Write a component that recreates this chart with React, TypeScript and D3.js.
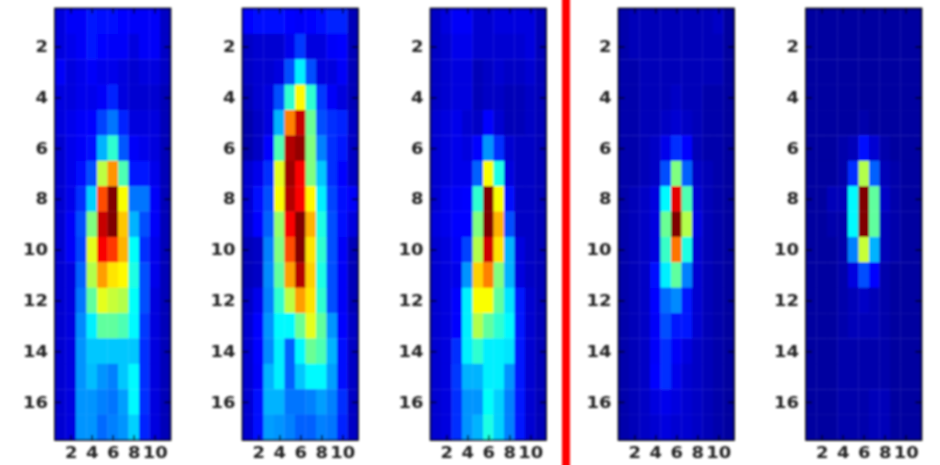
import React, { useEffect, useRef } from 'react';
import * as d3 from 'd3';

// rows top to bottom (1..17), columns left to right (1..11), jet scale 0..1
const panelA = [
  [.10,.12,.12,.15,.14,.14,.13,.12,.12,.12,.08],
  [.10,.11,.12,.15,.13,.12,.12,.10,.12,.12,.08],
  [.12,.10,.11,.12,.11,.11,.10,.09,.10,.10,.08],
  [.10,.10,.11,.11,.12,.16,.10,.09,.09,.09,.07],
  [.10,.11,.12,.13,.19,.24,.16,.10,.10,.10,.07],
  [.09,.11,.12,.14,.30,.42,.21,.12,.11,.10,.07],
  [.09,.11,.14,.20,.56,.73,.45,.15,.15,.11,.07],
  [.09,.11,.17,.33,.80,1.0,.62,.24,.24,.12,.07],
  [.09,.12,.20,.50,.93,1.0,.68,.30,.20,.12,.07],
  [.09,.12,.19,.60,.88,.82,.70,.38,.17,.11,.07],
  [.09,.10,.22,.55,.72,.65,.63,.40,.20,.11,.07],
  [.09,.10,.24,.47,.60,.57,.55,.38,.20,.10,.07],
  [.09,.10,.26,.36,.47,.47,.45,.37,.18,.10,.07],
  [.09,.10,.27,.32,.32,.32,.32,.32,.17,.10,.07],
  [.09,.10,.27,.31,.27,.25,.32,.37,.17,.10,.07],
  [.09,.10,.27,.27,.25,.24,.28,.37,.17,.10,.07],
  [.09,.10,.27,.27,.23,.25,.27,.33,.16,.10,.07],
];
const panelB = [
  [.13,.14,.14,.14,.13,.12,.13,.14,.16,.16,.07],
  [.08,.09,.09,.09,.11,.18,.10,.10,.12,.13,.07],
  [.08,.09,.09,.10,.20,.36,.20,.10,.10,.12,.07],
  [.07,.09,.10,.20,.42,.63,.42,.18,.12,.10,.07],
  [.06,.08,.10,.30,.75,.93,.48,.20,.17,.16,.08],
  [.06,.08,.13,.45,.95,.98,.50,.25,.17,.15,.08],
  [.09,.11,.17,.60,.97,.88,.50,.32,.17,.13,.08],
  [.09,.14,.20,.62,.95,.88,.63,.36,.19,.14,.12],
  [.09,.13,.22,.52,.88,1.0,.70,.40,.20,.14,.10],
  [.07,.08,.25,.50,.80,1.0,.65,.42,.20,.12,.07],
  [.07,.08,.26,.47,.72,.95,.67,.40,.20,.12,.07],
  [.08,.11,.25,.42,.56,.72,.65,.42,.20,.12,.07],
  [.09,.13,.27,.37,.37,.48,.60,.47,.27,.13,.08],
  [.09,.13,.26,.36,.22,.37,.48,.45,.30,.14,.08],
  [.09,.12,.30,.36,.22,.32,.37,.37,.28,.14,.08],
  [.09,.14,.30,.30,.24,.24,.25,.28,.25,.17,.08],
  [.09,.14,.28,.27,.25,.22,.22,.25,.24,.16,.08],
];
const panelC = [
  [.08,.10,.12,.12,.09,.09,.10,.10,.10,.10,.07],
  [.08,.09,.11,.11,.09,.09,.09,.09,.09,.10,.07],
  [.08,.09,.10,.10,.07,.08,.09,.08,.08,.09,.07],
  [.08,.09,.10,.10,.07,.08,.08,.07,.07,.08,.07],
  [.09,.10,.11,.09,.08,.13,.09,.07,.07,.08,.07],
  [.09,.10,.11,.10,.13,.27,.17,.09,.08,.08,.07],
  [.09,.10,.11,.11,.22,.62,.40,.10,.08,.08,.07],
  [.09,.11,.12,.13,.42,1.0,.62,.14,.08,.08,.07],
  [.10,.11,.13,.13,.50,1.0,.70,.20,.08,.08,.07],
  [.09,.10,.12,.19,.55,.92,.65,.30,.10,.08,.07],
  [.09,.10,.11,.27,.67,.75,.50,.30,.10,.08,.07],
  [.09,.10,.13,.36,.62,.62,.47,.35,.15,.09,.07],
  [.09,.10,.13,.36,.55,.47,.42,.37,.15,.09,.07],
  [.09,.10,.17,.36,.42,.36,.36,.35,.15,.09,.07],
  [.09,.10,.18,.30,.30,.36,.36,.27,.15,.09,.07],
  [.09,.10,.17,.27,.27,.38,.33,.25,.15,.09,.07],
  [.09,.10,.17,.27,.30,.40,.33,.25,.15,.09,.07],
];
const panelD = [
  [.06,.07,.07,.07,.07,.07,.07,.07,.07,.08,.05],
  [.06,.07,.07,.07,.07,.07,.07,.07,.07,.07,.05],
  [.06,.06,.07,.07,.07,.07,.07,.07,.07,.07,.05],
  [.06,.06,.07,.07,.07,.08,.07,.07,.06,.06,.05],
  [.06,.06,.07,.07,.08,.09,.08,.07,.06,.06,.05],
  [.06,.06,.07,.08,.11,.17,.13,.07,.06,.06,.05],
  [.06,.06,.07,.08,.20,.50,.22,.08,.07,.06,.05],
  [.06,.07,.08,.10,.37,.90,.45,.09,.07,.06,.05],
  [.06,.07,.08,.10,.48,1.0,.55,.10,.07,.06,.05],
  [.06,.07,.08,.10,.43,.76,.40,.09,.07,.06,.05],
  [.06,.07,.08,.14,.36,.47,.25,.09,.07,.06,.05],
  [.06,.07,.08,.13,.23,.26,.15,.09,.07,.06,.05],
  [.06,.07,.08,.12,.20,.15,.15,.09,.07,.06,.05],
  [.06,.07,.08,.12,.17,.12,.10,.08,.07,.06,.05],
  [.06,.07,.08,.13,.17,.11,.09,.08,.07,.06,.05],
  [.06,.07,.08,.10,.11,.10,.09,.08,.07,.06,.05],
  [.06,.07,.08,.09,.10,.09,.09,.08,.07,.06,.05],
];
const panelE = [
  [.05,.05,.05,.05,.05,.05,.05,.05,.05,.05,.05],
  [.05,.05,.05,.05,.05,.05,.05,.05,.05,.05,.05],
  [.05,.05,.05,.05,.05,.05,.05,.05,.05,.05,.05],
  [.05,.05,.05,.05,.05,.05,.05,.05,.05,.05,.05],
  [.05,.05,.05,.05,.05,.06,.05,.05,.05,.05,.05],
  [.05,.05,.05,.06,.07,.14,.09,.06,.05,.05,.05],
  [.05,.05,.05,.06,.17,.55,.22,.07,.06,.05,.05],
  [.05,.05,.07,.07,.37,1.0,.47,.08,.06,.05,.05],
  [.05,.05,.06,.06,.37,1.0,.47,.07,.06,.05,.05],
  [.05,.05,.05,.06,.25,.57,.30,.07,.06,.05,.05],
  [.05,.05,.05,.06,.10,.20,.13,.06,.05,.05,.05],
  [.05,.05,.05,.06,.07,.08,.07,.06,.05,.05,.05],
  [.05,.05,.05,.06,.07,.07,.07,.06,.05,.05,.05],
  [.05,.05,.05,.06,.06,.06,.06,.06,.05,.05,.05],
  [.05,.05,.05,.06,.06,.06,.06,.06,.05,.05,.05],
  [.05,.05,.05,.06,.06,.06,.07,.07,.05,.05,.05],
  [.05,.05,.05,.06,.06,.06,.07,.07,.05,.05,.05],
];
const panels = [panelA, panelB, panelC, panelD, panelE];
const panelLefts = [55, 242.5, 430.5, 618.5, 806];
const xTicks = [2, 4, 6, 8, 10];
const yTicks = [2, 4, 6, 8, 10, 12, 14, 16];
const jetStops = [0, 0.125, 0.375, 0.625, 0.875, 1];
const jetColors = ['#000060', '#0000ff', '#00ffff', '#ffff00', '#ff0000', '#800000'];

export default function App() {
  const ref = useRef<SVGSVGElement>(null);

  useEffect(() => {
    const svg = d3.select(ref.current);
    svg.selectAll('*').remove();

    const width = 115.5;
    const top = 8.5;
    const bottom = 440;

    const color = d3.scaleLinear<string>().domain(jetStops).range(jetColors);
    const x = d3.scaleLinear().domain([0.5, 11.5]).range([0, width]);
    const y = d3.scaleLinear().domain([0.5, 17.5]).range([top, bottom]);

    // the reference is a soft, upscaled image; below ~0.8 the blur does nothing
    svg
      .append('defs')
      .append('filter')
      .attr('id', 'soft')
      .attr('x', '-5%')
      .attr('y', '-5%')
      .attr('width', '110%')
      .attr('height', '110%')
      .append('feGaussianBlur')
      .attr('stdDeviation', 1);

    const root = svg.append('g').attr('filter', 'url(#soft)');

    root
      .append('rect')
      .attr('x', 562)
      .attr('y', -10)
      .attr('width', 8)
      .attr('height', 485)
      .attr('fill', '#ff0000');

    panels.forEach((rows, p) => {
      const g = root.append('g').attr('transform', `translate(${panelLefts[p]},0)`);

      // cells
      rows.forEach((row, r) => {
        g.selectAll(null)
          .data(row)
          .enter()
          .append('rect')
          .attr('x', (_, c) => x(c + 0.5))
          .attr('y', y(r + 0.5))
          .attr('width', x(1) - x(0) + 0.3)
          .attr('height', y(1) - y(0) + 0.3)
          .attr('fill', (d) => color(d));
      });

      // frame
      g.append('rect')
        .attr('x', 0)
        .attr('y', top)
        .attr('width', width)
        .attr('height', bottom - top)
        .attr('fill', 'none')
        .attr('stroke', '#000')
        .attr('stroke-width', 1.7);

      // axes, ticks pointing inward
      const left = g
        .append('g')
        .call(d3.axisLeft(y).tickValues(yTicks).tickSize(-6).tickPadding(7).tickFormat(d3.format('d')));
      const rightSide = g
        .append('g')
        .attr('transform', `translate(${width},0)`)
        .call(d3.axisRight(y).tickValues(yTicks).tickSize(-6).tickFormat(() => ''));
      const bot = g
        .append('g')
        .attr('transform', `translate(0,${bottom})`)
        .call(d3.axisBottom(x).tickValues(xTicks).tickSize(-5).tickPadding(7).tickFormat(d3.format('d')));
      const topSide = g
        .append('g')
        .attr('transform', `translate(0,${top})`)
        .call(d3.axisTop(x).tickValues(xTicks).tickSize(-5).tickFormat(() => ''));

      [left, rightSide, bot, topSide].forEach((a) => {
        a.select('.domain').remove();
        a.selectAll('line').attr('stroke', '#000').attr('stroke-width', 1.5);
        // labels in the reference are stretched sideways
        a.selectAll('text')
          .attr('fill', '#222')
          .attr('textLength', (d) => String(d).length * 12.5)
          .attr('lengthAdjust', 'spacingAndGlyphs')
          .style('font-family', '"DejaVu Sans", sans-serif')
          .style('font-weight', 700)
          .style('font-size', '16px');
      });
    });
  }, []);

  return (
    <svg
      ref={ref}
      width={940}
      height={465}
      style={{ position: 'absolute', left: 0, top: 0, background: '#fff' }}
    />
  );
}
